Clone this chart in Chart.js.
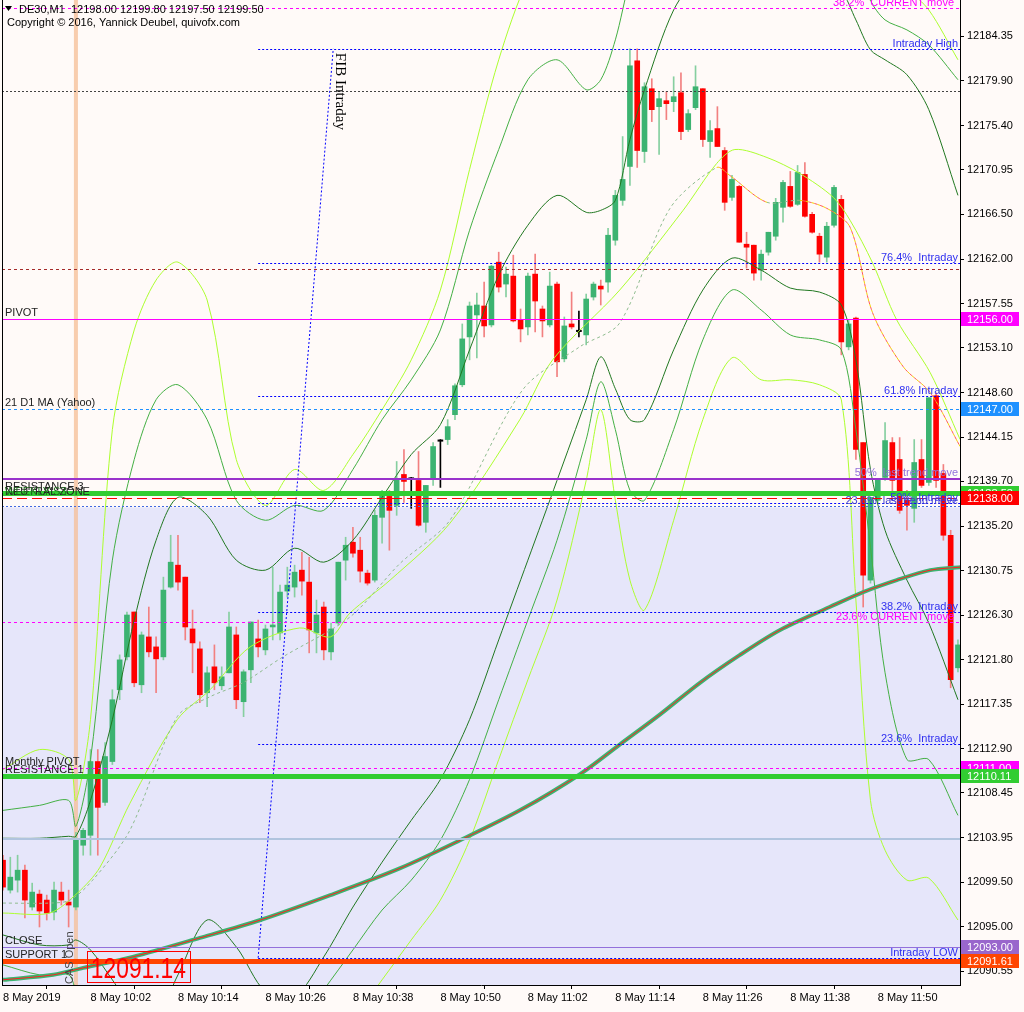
<!DOCTYPE html>
<html>
<head>
<meta charset="utf-8">
<script src="https://cdn.jsdelivr.net/npm/chart.js@4.4.0/dist/chart.umd.min.js"></script>
<style>
  html, body { margin: 0; padding: 0; background: #FFFAF8; }
  canvas { display: block; }
</style>
</head>
<body>
<canvas id="chart" width="1024" height="1012"></canvas>
<script>
// DE30 M1, 8 May 2019, bars from 09:50 (index 0) to 12:01
const tickIdx = [0, 12, 24, 36, 48, 60, 72, 84, 96, 108, 120];
const tickText = ['8 May 2019', '8 May 10:02', '8 May 10:14', '8 May 10:26', '8 May 10:38', '8 May 10:50',
  '8 May 11:02', '8 May 11:14', '8 May 11:26', '8 May 11:38', '8 May 11:50'];
const yTickVals = [12184.35, 12179.90, 12175.40, 12170.95, 12166.50, 12162.00, 12157.55, 12153.10, 12148.60,
  12144.15, 12139.70, 12135.20, 12130.75, 12126.30, 12121.80, 12117.35, 12112.90, 12108.45, 12103.95,
  12099.50, 12095.00, 12090.55];

const openP = [12101.7, 12098.7, 12099.7, 12100.7, 12097.0, 12098.3, 12097.7, 12096.5, 12098.5, 12097.5,
  12097.0, 12103.2, 12104.2, 12111.6, 12107.5, 12111.6, 12118.8, 12122.1, 12126.6, 12119.3,
  12124.1, 12123.1, 12122.1, 12129.1, 12131.3, 12130.1, 12124.9, 12122.9, 12118.5, 12121.1,
  12119.2, 12120.5, 12124.3, 12117.6, 12120.8, 12123.9, 12122.8, 12125.1, 12124.5, 12128.7,
  12129.1, 12130.8, 12129.6, 12124.5, 12127.1, 12122.6, 12125.5, 12131.8, 12133.6, 12132.8,
  12130.5, 12129.8, 12136.1, 12138.2, 12137.3, 12140.4, 12140.0, 12139.8, 12135.6, 12139.9,
  12143.8, 12143.9, 12146.4, 12149.4, 12154.2, 12156.4, 12157.3, 12155.4, 12161.7, 12159.5,
  12160.3, 12155.9, 12155.2, 12160.5, 12157.0, 12155.4, 12159.5, 12152.0, 12155.5, 12154.8,
  12154.4, 12158.2, 12159.3, 12159.7, 12163.9, 12167.9, 12171.3, 12181.9, 12172.8, 12179.1,
  12177.3, 12177.9, 12177.8, 12178.7, 12175.0, 12177.2, 12179.1, 12173.8, 12175.1, 12172.9,
  12168.2, 12169.3, 12163.5, 12163.4, 12160.9, 12162.7, 12164.3, 12167.2, 12169.3, 12167.5,
  12170.5, 12166.5, 12164.3, 12162.2, 12165.4, 12168.0, 12153.2, 12156.1, 12143.6, 12129.8,
  12137.8, 12140.1, 12143.6, 12141.9, 12137.8, 12137.0, 12141.9, 12139.6, 12148.3, 12140.5,
  12134.3, 12121.0];
const highP = [12102.2, 12102.0, 12102.2, 12101.2, 12099.4, 12098.7, 12098.2, 12099.5, 12099.5, 12098.7,
  12104.5, 12104.9, 12112.8, 12112.8, 12113.5, 12118.8, 12122.3, 12126.6, 12126.6, 12124.6,
  12127.1, 12124.1, 12130.1, 12134.3, 12134.3, 12130.1, 12126.8, 12123.6, 12121.1, 12123.3,
  12121.1, 12126.6, 12125.1, 12120.8, 12125.6, 12125.8, 12125.3, 12131.1, 12129.3, 12131.1,
  12131.3, 12132.6, 12132.1, 12127.8, 12127.6, 12125.5, 12131.6, 12134.1, 12135.1, 12134.1,
  12130.8, 12136.8, 12138.8, 12138.8, 12141.7, 12142.9, 12140.1, 12142.7, 12139.3, 12143.6,
  12143.9, 12145.9, 12149.5, 12155.5, 12157.7, 12158.6, 12159.7, 12161.4, 12162.7, 12161.2,
  12162.4, 12157.0, 12160.6, 12162.5, 12157.3, 12160.7, 12159.7, 12156.2, 12158.7, 12156.8,
  12158.5, 12159.7, 12159.9, 12165.1, 12168.9, 12174.3, 12183.1, 12183.1, 12179.7, 12180.1,
  12178.8, 12178.8, 12180.3, 12180.7, 12177.0, 12181.4, 12179.1, 12175.9, 12177.3, 12173.2,
  12170.4, 12169.4, 12164.7, 12163.4, 12162.9, 12164.7, 12168.1, 12169.9, 12170.8, 12171.4,
  12171.7, 12166.7, 12164.6, 12165.7, 12169.4, 12168.4, 12155.9, 12156.2, 12143.6, 12138.1,
  12140.0, 12145.6, 12144.1, 12144.1, 12138.8, 12143.9, 12143.9, 12148.1, 12148.6, 12141.4,
  12134.8, 12123.8];
const lowP = [12098.7, 12098.4, 12098.5, 12095.9, 12096.7, 12095.0, 12095.7, 12095.7, 12097.2, 12095.0,
  12096.7, 12102.2, 12102.2, 12102.2, 12107.2, 12111.3, 12117.8, 12121.8, 12119.1, 12118.5,
  12122.1, 12118.5, 12121.8, 12129.0, 12128.8, 12123.8, 12120.5, 12117.5, 12117.1, 12118.8,
  12118.8, 12120.5, 12116.9, 12116.1, 12119.5, 12122.1, 12122.3, 12123.8, 12123.8, 12128.1,
  12128.1, 12128.3, 12122.5, 12122.5, 12121.8, 12121.8, 12125.3, 12129.8, 12132.1, 12129.6,
  12129.3, 12129.6, 12133.5, 12132.8, 12136.3, 12137.6, 12137.0, 12135.2, 12134.6, 12139.3,
  12139.1, 12143.4, 12145.9, 12149.2, 12151.9, 12152.1, 12154.2, 12155.2, 12158.7, 12158.2,
  12155.7, 12153.7, 12154.4, 12154.7, 12154.2, 12155.2, 12150.2, 12151.7, 12155.0, 12154.2,
  12153.4, 12157.9, 12157.4, 12158.7, 12163.4, 12167.4, 12169.4, 12171.2, 12171.7, 12175.8,
  12172.5, 12176.0, 12176.8, 12174.0, 12174.8, 12177.0, 12173.3, 12172.2, 12173.3, 12166.9,
  12167.9, 12163.7, 12161.1, 12159.9, 12159.9, 12162.4, 12163.9, 12165.7, 12167.2, 12167.4,
  12166.2, 12164.6, 12161.7, 12161.7, 12165.2, 12152.4, 12152.9, 12141.9, 12127.1, 12129.5,
  12137.5, 12139.8, 12137.8, 12136.5, 12134.8, 12135.6, 12139.1, 12139.3, 12139.1, 12133.8,
  12119.0, 12120.6];
const closeP = [12099.0, 12100.0, 12100.7, 12097.7, 12098.5, 12096.6, 12096.4, 12098.7, 12097.7, 12097.2,
  12103.7, 12104.7, 12111.6, 12107.0, 12112.1, 12117.8, 12121.8, 12126.3, 12119.5, 12124.3,
  12122.6, 12121.9, 12128.8, 12131.6, 12129.6, 12125.1, 12123.5, 12118.3, 12120.5, 12119.5,
  12120.1, 12125.1, 12117.8, 12120.6, 12125.6, 12123.1, 12124.9, 12125.3, 12128.6, 12129.3,
  12130.6, 12129.7, 12124.8, 12126.3, 12122.8, 12124.9, 12131.6, 12133.3, 12132.5, 12130.7,
  12129.5, 12136.3, 12138.3, 12136.8, 12140.0, 12139.7, 12140.0, 12135.3, 12139.3, 12143.2,
  12143.8, 12145.2, 12149.3, 12154.0, 12157.3, 12157.4, 12155.3, 12161.3, 12159.2, 12160.5,
  12155.8, 12155.0, 12160.3, 12157.8, 12155.8, 12159.3, 12151.7, 12155.3, 12155.2, 12154.8,
  12158.0, 12159.5, 12159.0, 12164.4, 12168.4, 12170.0, 12181.4, 12172.9, 12179.3, 12177.0,
  12178.1, 12177.6, 12178.3, 12174.8, 12176.6, 12179.3, 12174.0, 12174.9, 12173.3, 12167.7,
  12170.0, 12163.7, 12163.2, 12160.6, 12162.5, 12164.7, 12167.7, 12169.7, 12167.3, 12170.7,
  12166.3, 12164.7, 12162.5, 12165.3, 12169.2, 12153.7, 12155.5, 12142.9, 12130.3, 12138.1,
  12140.0, 12143.8, 12139.8, 12136.8, 12137.3, 12141.6, 12139.3, 12148.1, 12139.8, 12134.3,
  12119.8, 12123.3];

// band envelopes (dark / mid / light green), read at these bar indices
const bandIdx = [0, 5, 9, 10, 12, 15, 18, 21, 24, 28, 32, 36, 40, 44, 48, 52, 56, 60, 64, 68,
  72, 76, 80, 82, 84, 86, 88, 92, 96, 100, 104, 108, 112, 115, 117, 119, 121, 124, 127, 131];
const dgUpper = [12103.9, 12103.9, 12104.1, 12104.1, 12107.7, 12115.8, 12125.8, 12133.8, 12138.1, 12136.3,
  12131.8, 12130.8, 12133.0, 12131.6, 12133.8, 12138.1, 12142.4, 12145.4, 12152.9, 12160.4,
  12165.4, 12168.4, 12166.7, 12166.9, 12167.9, 12174.0, 12179.0, 12187.0, 12191.0, 12193.0,
  12194.0, 12193.0, 12191.0, 12189.0, 12186.0, 12183.0, 12182.0, 12180.5, 12177.0, 12168.4];
const dgLower = [12094.2, 12093.2, 12093.2, 12093.7, 12092.7, 12089.7, 12086.7, 12086.0, 12090.2, 12095.7,
  12093.0, 12088.5, 12088.0, 12092.0, 12097.0, 12101.5, 12105.7, 12109.8, 12115.8, 12123.8,
  12131.8, 12139.8, 12147.9, 12152.2, 12149.0, 12145.9, 12145.9, 12152.9, 12158.9, 12162.1,
  12160.9, 12159.1, 12158.7, 12157.4, 12151.9, 12140.9, 12134.8, 12129.8, 12125.5, 12117.8];
const mgUpper = [12106.7, 12107.2, 12107.7, 12105.1, 12111.8, 12131.8, 12141.9, 12147.9, 12149.4, 12145.9,
  12137.8, 12135.8, 12137.3, 12136.8, 12140.9, 12145.9, 12149.9, 12154.9, 12164.9, 12173.0,
  12180.0, 12182.0, 12179.0, 12180.0, 12184.0, 12190.0, 12194.0, 12198.0, 12200.0, 12201.0,
  12201.0, 12200.0, 12198.0, 12196.0, 12193.0, 12188.0, 12186.0, 12185.0, 12183.5, 12180.0];
const mgLower = [12091.2, 12090.2, 12090.2, 12088.7, 12086.7, 12083.7, 12079.7, 12077.6, 12076.6, 12077.6,
  12079.7, 12081.7, 12084.7, 12088.7, 12092.7, 12096.7, 12099.7, 12103.7, 12109.8, 12117.8,
  12125.8, 12133.8, 12143.9, 12149.7, 12144.9, 12138.8, 12137.8, 12144.9, 12153.9, 12158.9,
  12156.9, 12154.4, 12153.9, 12152.9, 12144.9, 12133.1, 12120.5, 12111.8, 12111.8, 12106.2];
const ygUpper = [12110.8, 12112.8, 12111.8, 12107.7, 12115.8, 12144.9, 12154.9, 12159.9, 12161.7, 12157.9,
  12141.9, 12137.3, 12140.9, 12138.8, 12142.4, 12146.9, 12151.9, 12158.9, 12171.0, 12182.0,
  12190.0, 12194.0, 12192.0, 12193.0, 12196.0, 12203.0, 12208.1, 12213.1, 12215.1, 12216.1,
  12216.1, 12214.1, 12208.1, 12200.0, 12190.0, 12188.0, 12190.0, 12189.0, 12187.0, 12182.0];
const ygLower = [12087.7, 12086.7, 12086.7, 12083.7, 12081.7, 12077.6, 12072.6, 12070.6, 12069.6, 12070.6,
  12072.6, 12074.6, 12077.6, 12081.7, 12085.7, 12089.7, 12093.7, 12097.7, 12103.7, 12111.8,
  12119.8, 12127.8, 12139.8, 12146.9, 12137.8, 12129.8, 12126.8, 12135.8, 12145.9, 12152.1,
  12149.9, 12149.9, 12149.4, 12147.9, 12127.8, 12107.7, 12102.7, 12099.7, 12099.9, 12095.7];

// moving averages
const slowIdx = [0, 6.4, 10.2, 13.3, 17.4, 23.9, 28.4, 33.9, 40.7, 44.9, 47.6, 53.1, 61.3, 70.9, 75.4,
  84.6, 93.3, 97.9, 100.4, 104.8, 109.3, 113.9, 116.2, 119.3, 122.6, 127.2, 131.3];
const slowMA = [12096.4, 12096.4, 12098.4, 12101.0, 12107.4, 12115.8, 12118.8, 12123.1, 12125.0, 12124.1,
  12126.5, 12129.8, 12135.5, 12145.9, 12151.9, 12158.9, 12166.9, 12171.6, 12173.0, 12172.2,
  12170.6, 12168.2, 12165.9, 12161.6, 12155.9, 12150.6, 12143.9];
const fastIdx = [0, 6.4, 9.2, 12.3, 17.4, 23.9, 28.4, 32.9, 38.4, 47.6, 54.5, 61.3, 71.3, 79.1, 84.6,
  91.5, 97.9, 99.7, 104.8, 109.3, 113, 116.2, 119.3, 123.5, 127.2, 131.3];
const fastMA = [12097.4, 12097.4, 12097.7, 12099.7, 12104.7, 12116.1, 12118.1, 12119.5, 12122.1, 12126.1,
  12131.5, 12135.8, 12148.9, 12153.2, 12155.6, 12167.1, 12171.2, 12170.4, 12167.7, 12167.9,
  12167.1, 12165.2, 12156.6, 12151.2, 12148.6, 12143.2];
const ma200Idx = [0, 6.9, 11, 17.8, 27, 35.3, 44.9, 54.5, 62.7, 70.9, 79.1, 84.6, 90.1, 95.6, 101.1,
  106.6, 113.4, 118, 122.6, 127.2, 131.3];
const ma200 = [12089.7, 12090.2, 12090.9, 12092.0, 12093.9, 12095.7, 12098.2, 12100.9, 12103.7, 12106.7,
  12110.3, 12113.3, 12116.3, 12119.5, 12122.3, 12124.8, 12127.1, 12128.6, 12129.8, 12130.8, 12131.1];

// Fibonacci "Intraday" object
const fibAnchorIdx = [35, 45.3];
const fibAnchorPrice = [12091.9, 12183.1];
const fibLevels = [12183.1, 12161.6, 12148.3, 12137.5, 12126.6, 12113.4, 12091.9];
const fibText = ['Intraday High', '76.4%  Intraday', '61.8% Intraday', '50%  Intraday', '38.2%  Intraday',
  '23.6%  Intraday', 'Intraday LOW'];
const moveLevels = [12187.2, 12125.6];
const moveText = ['38.2%  CURRENT move', '23.6% CURRENT move'];
const trendLevels = [12139.9, 12137.2];
const trendText = ['50%  last trend move', '23.6%  last trend move'];

// pivot style levels with price boxes on the axis
const keyLevels = [12156.00, 12147.00, 12138.53, 12138.00, 12111.00, 12110.11, 12093.00, 12091.61];
const keyNames = ['PIVOT', '21 D1 MA (Yahoo)', 'RESISTANCE 3', 'NEUTRAL ZONE', 'Monthly PIVOT',
  'RESISTANCE 1', 'CLOSE', 'SUPPORT 1'];
const plainLevels = [12178.9, 12161.0, 12103.8];
const zoneRange = [12137.1, 12060.0];
const sessionOpenIdx = 10;
const priceTag = { idx: 11.5, price: 12092.6, text: '12091.14' };

// ---- styles ----
const keyStyle = [
  { c: '#FF00FF', w: 1, d: [] },
  { c: '#1E90FF', w: 1, d: [3, 3] },
  { c: '#32CD32', w: 5, d: [] },
  { c: '#FF0000', w: 1, d: [10, 5] },
  { c: '#FF00FF', w: 1, d: [3, 3] },
  { c: '#32CD32', w: 5, d: [] },
  { c: '#9370DB', w: 1, d: [] },
  { c: '#FF4500', w: 5, d: [] }
];
const plainStyle = [
  { c: '#444444', w: 1, d: [2, 2] },
  { c: '#A52A2A', w: 1, d: [3, 3] },
  { c: '#B0C4DE', w: 2, d: [] }
];
const FONT = "'Liberation Sans', Arial, sans-serif";
Chart.defaults.font.family = FONT;
Chart.defaults.font.size = 11;

const xMin = -0.14, xMax = 131.28;
const yMin = 12089.18, yMax = 12188.0;

const bars = openP.map((_, i) => i);
const isDoji = i => Math.abs(openP[i] - closeP[i]) < 0.05;
const bodyColor = i => isDoji(i) ? '#000000' : (closeP[i] > openP[i] ? '#3CB371' : '#FF0000');
const wickColor = i => isDoji(i) ? '#000000' : (closeP[i] > openP[i] ? '#86CFA0' : '#F28080');

const pts = (xs, ys) => xs.map((x, k) => ({ x: x, y: ys[k] }));
const lineSet = (xs, ys, color, width, extra) => Object.assign({
  type: 'line', data: pts(xs, ys), borderColor: color, borderWidth: width,
  pointRadius: 0, fill: false, tension: 0.3, order: 5
}, extra || {});
const rising = c => c.p1.parsed.y >= c.p0.parsed.y;

function hline(ctx, py, x0, x1, st) {
  ctx.beginPath();
  ctx.setLineDash(st.d);
  ctx.strokeStyle = st.c;
  ctx.lineWidth = st.w;
  const yy = st.w % 2 ? Math.round(py) + 0.5 : Math.round(py);
  ctx.moveTo(x0, yy);
  ctx.lineTo(x1, yy);
  ctx.stroke();
}

const decor = {
  id: 'decor',
  beforeDraw(chart) {
    const { ctx, width, height } = chart;
    ctx.save();
    ctx.fillStyle = '#FFFAF8';
    ctx.fillRect(0, 0, width, height);
    ctx.restore();
  },
  beforeDatasetsDraw(chart) {
    const { ctx, chartArea: a, scales: { x, y } } = chart;
    ctx.save();
    const zt = y.getPixelForValue(zoneRange[0]);
    const zb = Math.min(a.bottom, y.getPixelForValue(zoneRange[1]));
    ctx.fillStyle = '#E6E6FA';
    ctx.fillRect(a.left, zt, a.right - a.left, zb - zt);
    const sx = x.getPixelForValue(sessionOpenIdx);
    ctx.fillStyle = 'rgba(246,190,150,0.75)';
    ctx.fillRect(sx - 2, a.top, 4, a.bottom - a.top);
    ctx.restore();
  },
  afterDatasetsDraw(chart) {
    const { ctx, chartArea: a, scales: { x, y } } = chart;
    ctx.save();
    ctx.beginPath();
    ctx.rect(a.left, a.top, a.right - a.left, a.bottom - a.top);
    ctx.clip();
    const fx = x.getPixelForValue(fibAnchorIdx[0]);

    plainLevels.forEach((p, k) => hline(ctx, y.getPixelForValue(p), a.left, a.right, plainStyle[k]));
    fibLevels.forEach(p => hline(ctx, y.getPixelForValue(p), fx, a.right, { c: '#0000FF', w: 1, d: [2, 2] }));
    moveLevels.forEach(p => hline(ctx, y.getPixelForValue(p), a.left, a.right, { c: '#FF00FF', w: 1, d: [3, 3] }));
    hline(ctx, y.getPixelForValue(trendLevels[0]), a.left, a.right, { c: '#9932CC', w: 2, d: [] });
    hline(ctx, y.getPixelForValue(trendLevels[1]), a.left, a.right, { c: '#4169E1', w: 1, d: [2, 2] });
    keyLevels.forEach((p, k) => hline(ctx, y.getPixelForValue(p), a.left, a.right, keyStyle[k]));
    ctx.setLineDash([]);

    // texts on the right end of lines
    ctx.font = '11px ' + FONT;
    ctx.textAlign = 'right';
    ctx.textBaseline = 'alphabetic';
    ctx.fillStyle = '#3030F0';
    fibLevels.forEach((p, k) => ctx.fillText(fibText[k], a.right - 2, y.getPixelForValue(p) - 2));
    ctx.fillStyle = '#FF00FF';
    moveLevels.forEach((p, k) => ctx.fillText(moveText[k], a.right - 6, y.getPixelForValue(p) - 2));
    ctx.fillStyle = '#9370DB';
    ctx.fillText(trendText[0], a.right - 2, y.getPixelForValue(trendLevels[0]) - 3);
    ctx.fillStyle = '#4040D0';
    ctx.fillText(trendText[1], a.right - 2, y.getPixelForValue(trendLevels[1]) - 2);

    // texts on the left of the key lines
    ctx.textAlign = 'left';
    ctx.fillStyle = '#222222';
    keyLevels.forEach((p, k) => ctx.fillText(keyNames[k], a.left + 3, y.getPixelForValue(p) - 3));
    ctx.fillStyle = '#1F6F1F';
    ctx.fillText('WEEKLY S3', a.left + 3, y.getPixelForValue(keyLevels[3]) - 3);

    // vertical texts
    const sx = x.getPixelForValue(sessionOpenIdx);
    ctx.save();
    ctx.translate(sx - 3, a.bottom - 1);
    ctx.rotate(-Math.PI / 2);
    ctx.fillStyle = '#444444';
    ctx.fillText('CAS Open', 0, 0);
    ctx.restore();

    ctx.save();
    ctx.translate(x.getPixelForValue(fibAnchorIdx[1]) + 3, y.getPixelForValue(fibAnchorPrice[1]) + 4);
    ctx.rotate(Math.PI / 2);
    ctx.font = "15px 'Liberation Serif', serif";
    ctx.fillStyle = '#000000';
    ctx.fillText('FIB Intraday', 0, 0);
    ctx.restore();

    // price tag text object
    const tx = x.getPixelForValue(priceTag.idx), ty = y.getPixelForValue(priceTag.price);
    ctx.strokeStyle = '#FF0000';
    ctx.lineWidth = 1;
    ctx.strokeRect(Math.round(tx) + 0.5, Math.round(ty) + 0.5, 103, 31);
    ctx.save();
    ctx.translate(tx + 4, ty + 27);
    ctx.scale(0.76, 1);
    ctx.font = '30px ' + FONT;
    ctx.fillStyle = '#FF0000';
    ctx.fillText(priceTag.text, 0, 0);
    ctx.restore();

    ctx.restore();
  },
  afterDraw(chart) {
    const { ctx, chartArea: a, scales: { y } } = chart;
    ctx.save();
    // left frame line
    ctx.strokeStyle = '#000000';
    ctx.lineWidth = 1;
    ctx.beginPath();
    ctx.moveTo(a.left + 0.5, a.top);
    ctx.lineTo(a.left + 0.5, a.bottom);
    ctx.stroke();

    // price boxes on the axis
    ctx.font = '11px ' + FONT;
    ctx.textBaseline = 'middle';
    ctx.textAlign = 'left';
    keyLevels.forEach((p, k) => {
      const py = Math.round(y.getPixelForValue(p));
      ctx.fillStyle = k === 6 ? '#9966CC' : keyStyle[k].c;
      ctx.fillRect(a.right + 1, py - 7, 58, 14);
      ctx.fillStyle = '#FFFFFF';
      ctx.fillText(p.toFixed(2), a.right + 7, py + 0.5);
    });

    // header
    ctx.fillStyle = '#000000';
    ctx.beginPath();
    ctx.moveTo(5, 6); ctx.lineTo(12, 6); ctx.lineTo(8.5, 11); ctx.closePath();
    ctx.fill();
    ctx.textBaseline = 'alphabetic';
    ctx.fillText('DE30,M1  12198.00 12199.80 12197.50 12199.50', 19, 13);
    ctx.fillText('Copyright \u00A9 2016, Yannick Deubel, quivofx.com', 7, 26);
    ctx.restore();
  }
};

const datasets = [
  lineSet(ma200Idx, ma200, '#FF2020', 1, { order: 1 }),
  lineSet(ma200Idx, ma200, '#3CB371', 4, { order: 2 }),
  lineSet(fibAnchorIdx, fibAnchorPrice, '#0000FF', 1, { tension: 0, borderDash: [2, 2], order: 3 }),
  lineSet(fastIdx, fastMA, '#8FBC8F', 1, {
    borderDash: [3, 3], borderDashOffset: 3, order: 3,
    segment: { borderColor: c => rising(c) ? 'rgba(0,0,0,0)' : '#FF5A5A' }
  }),
  lineSet(fastIdx, fastMA, '#8FBC8F', 1, {
    borderDash: [3, 3], order: 4,
    segment: { borderColor: c => rising(c) ? '#8FBC8F' : '#F2D600' }
  }),
  lineSet(slowIdx, slowMA, '#ADFF2F', 1, { order: 4 }),
  lineSet(bandIdx, dgUpper, '#217821', 1),
  lineSet(bandIdx, dgLower, '#217821', 1),
  lineSet(bandIdx, mgUpper, '#44B044', 1),
  lineSet(bandIdx, mgLower, '#44B044', 1),
  lineSet(bandIdx, ygUpper, '#ADFF2F', 1),
  lineSet(bandIdx, ygLower, '#ADFF2F', 1),
  {
    type: 'bar', order: 20, grouped: false, barThickness: 1, borderWidth: 0,
    data: bars.map(i => ({ x: i, y: [lowP[i], highP[i]] })),
    backgroundColor: bars.map(wickColor)
  },
  {
    type: 'bar', order: 19, grouped: false, barThickness: 5, borderWidth: 0,
    data: bars.map(i => ({ x: i, y: isDoji(i) ? [openP[i] - 0.07, openP[i] + 0.07] : [openP[i], closeP[i]] })),
    backgroundColor: bars.map(bodyColor)
  }
];

new Chart(document.getElementById('chart').getContext('2d'), {
  type: 'bar',
  data: { datasets: datasets },
  options: {
    responsive: false,
    animation: false,
    devicePixelRatio: 1,
    layout: { padding: { left: 2, top: 0, right: 0, bottom: 0 } },
    plugins: { legend: { display: false }, tooltip: { enabled: false } },
    scales: {
      x: {
        type: 'linear', min: xMin, max: xMax, offset: false,
        afterBuildTicks: s => { s.ticks = tickIdx.map(v => ({ value: v })); },
        afterFit: s => { s.height = 27; s.paddingLeft = 0; s.paddingRight = 0; },
        ticks: {
          autoSkip: false, maxRotation: 0, align: 'start', padding: 2, color: '#000000',
          callback: (v, i) => tickText[i]
        },
        grid: { drawOnChartArea: false, tickLength: 4, color: '#000000' },
        border: { display: true, color: '#000000' }
      },
      y: {
        type: 'linear', position: 'right', min: yMin, max: yMax,
        afterBuildTicks: s => { s.ticks = yTickVals.map(v => ({ value: v })); },
        afterFit: s => { s.width = 64; s.paddingTop = 0; s.paddingBottom = 0; },
        ticks: { autoSkip: false, padding: 3, color: '#000000', callback: v => v.toFixed(2) },
        grid: { drawOnChartArea: false, tickLength: 4, color: '#000000' },
        border: { display: true, color: '#000000' }
      }
    }
  },
  plugins: [decor]
});
</script>
</body>
</html>
